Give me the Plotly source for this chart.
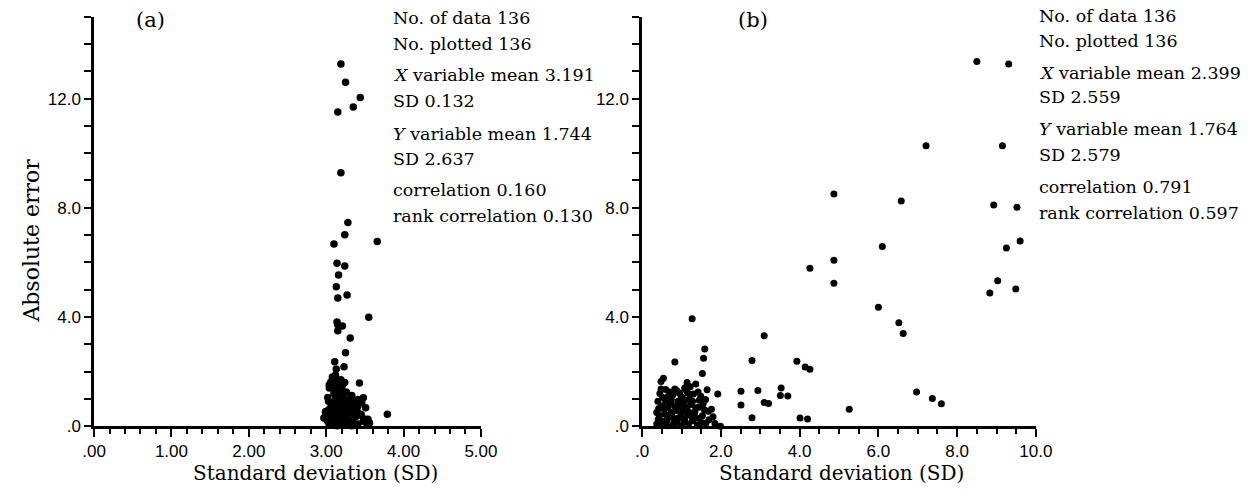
import plotly.graph_objects as go

W, H = 1260, 497

# ---------------- data: panel (a) ----------------
a_x = [3.19, 3.25, 3.44, 3.35, 3.15, 3.19, 3.28, 3.24, 3.10, 3.66,
       3.14, 3.24, 3.16, 3.13, 3.15, 3.27, 3.55, 3.15, 3.21, 3.15,
       3.31, 3.25, 3.11, 3.23, 3.13, 3.14,
       3.10, 3.19, 3.24, 3.11, 3.04, 3.43, 3.05, 3.16, 3.22, 3.08, 3.13,
       3.04, 3.13, 3.18, 3.32, 3.33, 3.48, 3.10, 3.15, 3.22, 3.07, 3.20, 3.12, 3.26, 3.02,
       3.03, 3.16, 3.24, 3.38, 3.44, 3.41, 3.37, 3.46, 3.20, 3.41, 3.51, 3.11, 3.26, 3.20,
       3.09, 3.01, 2.99, 3.33, 3.14, 3.07, 3.18, 3.28, 3.05, 3.22, 3.12, 3.30, 3.36, 3.09, 3.17,
       3.45, 3.79, 2.97, 3.07, 3.18, 3.29, 3.51, 3.55, 3.05, 3.15,
       3.22, 3.32, 3.53, 3.45, 3.07, 3.18, 3.28, 3.35, 3.54, 3.56,
       3.04, 3.14, 3.30, 3.10, 3.13, 3.20, 3.24, 3.11, 3.16, 3.26,
       3.02, 3.09, 3.19, 3.12, 3.25, 3.38, 3.48, 3.00, 3.41, 3.23,
       3.14, 3.06, 3.17, 3.10, 3.27, 3.33, 3.21, 3.08, 3.15, 3.19,
       3.06, 3.12, 3.28, 3.34, 3.40, 3.13]
a_y = [13.27, 12.60, 12.04, 11.69, 11.51, 9.28, 7.46, 7.01, 6.67, 6.77,
       5.97, 5.87, 5.54, 5.11, 4.70, 4.81, 3.99, 3.72, 3.67, 3.50,
       3.23, 2.69, 2.36, 2.18, 2.10, 3.82,
       1.76, 1.70, 1.60, 1.70, 1.52, 1.58, 1.46, 1.62, 1.55, 1.80, 1.52,
       1.40, 1.33, 1.28, 1.10, 1.13, 1.04, 1.20, 1.10, 1.05, 1.42, 1.38, 1.15, 1.25, 1.05,
       0.92, 0.92, 0.84, 0.88, 0.92, 0.98, 0.86, 0.86, 0.80, 0.74, 0.68, 0.62, 0.56, 0.64,
       0.50, 0.56, 0.53, 0.50, 0.75, 0.85, 0.58, 0.70, 0.66, 0.96, 0.98, 0.90, 0.62, 0.72, 0.52,
       0.44, 0.44, 0.30, 0.32, 0.26, 0.20, 0.26, 0.14, 0.08, 0.04,
       0.08, 0.10, 0.05, 0.40, 0.20, 0.24, 0.14, 0.26, 0.26, 0.12,
       0.04, 0.02, 0.04, 0.40, 0.15, 0.35, 0.45, 0.28, 0.10, 0.30,
       0.18, 0.10, 0.42, 0.45, 0.06, 0.35, 0.18, 0.42, 0.08, 0.22,
       0.36, 0.25, 0.16, 0.05, 0.40, 0.02, 0.12, 0.38, 0.30, 0.06,
       1.62, 1.88, 0.96, 0.78, 0.55, 1.00]

# ---------------- data: panel (b) ----------------
b_x = [8.50, 9.31, 7.21, 9.15, 4.87, 6.58, 8.93, 9.52, 9.60, 9.25,
       6.10, 4.87, 4.87, 9.03, 9.49, 8.83, 6.00, 6.52, 6.63, 6.97,
       7.37, 7.60, 5.26, 4.26, 3.10, 2.79, 3.93, 4.14, 4.26, 2.51,
       2.94, 3.53, 3.51, 3.70, 2.51, 3.10, 3.21, 2.79, 4.01, 4.20,
       1.27, 1.59, 1.56, 0.83, 1.53, 0.54, 0.48, 1.14, 1.36, 0.48,
       0.83, 1.08, 1.16, 1.65, 1.92, 0.99, 1.49, 0.66, 0.40, 0.74,
       0.91, 1.28, 1.61, 0.50, 0.66, 0.83, 1.08, 1.36, 1.76, 0.37,
       0.58, 0.74, 0.99, 1.20, 1.32, 1.53, 0.41, 0.62, 0.83, 1.08,
       1.28, 1.70, 0.37, 0.54, 0.79, 0.99, 1.47, 1.99,
       0.45, 0.52, 0.60, 0.70, 0.78, 0.88, 0.95, 1.02, 1.12, 1.22,
       1.30, 1.42, 1.45, 1.55, 1.68, 1.80, 1.62, 1.40, 1.18, 0.88,
       0.68, 0.50, 0.44, 0.56, 0.72, 0.86, 0.94, 1.04, 1.14, 1.24,
       1.34, 1.44, 1.58, 0.64, 0.76, 0.92, 1.00, 1.10, 1.20, 1.38,
       1.50, 1.85, 0.42, 0.60, 0.80, 1.06, 1.26, 1.16]
b_y = [13.36, 13.27, 10.27, 10.27, 8.51, 8.25, 8.10, 8.02, 6.78, 6.53,
       6.58, 6.08, 5.24, 5.33, 5.03, 4.88, 4.36, 3.79, 3.40, 1.25,
       1.02, 0.82, 0.62, 5.79, 3.31, 2.41, 2.38, 2.17, 2.09, 1.28,
       1.31, 1.40, 1.13, 1.11, 0.78, 0.87, 0.83, 0.31, 0.30, 0.27,
       3.94, 2.83, 2.49, 2.35, 1.93, 1.76, 1.64, 1.60, 1.55, 1.36,
       1.36, 1.40, 1.22, 1.34, 1.18, 1.10, 1.10, 1.10, 0.92, 0.98,
       0.92, 0.92, 0.98, 0.74, 0.68, 0.74, 0.74, 0.68, 0.62, 0.50,
       0.44, 0.50, 0.44, 0.50, 0.38, 0.38, 0.26, 0.20, 0.24, 0.26,
       0.20, 0.24, 0.08, 0.05, 0.07, 0.02, 0.02, 0.00,
       1.20, 1.05, 0.90, 1.25, 1.15, 1.30, 1.22, 1.05, 1.32, 1.45,
       1.18, 1.25, 0.95, 0.82, 0.55, 0.35, 0.12, 0.05, 0.08, 0.15,
       0.32, 0.18, 0.40, 0.62, 0.85, 0.58, 0.68, 0.55, 0.62, 0.80,
       0.52, 0.70, 0.60, 0.02, 0.38, 0.30, 0.85, 0.95, 1.00, 0.30,
       0.15, 0.10, 0.65, 1.35, 0.10, 0.15, 0.35, 0.42]

# ---------------- ticks & texts ----------------
y_tickvals = [0, 4, 8, 12]
y_ticktext = [".0", "4.0", "8.0", "12.0"]
a_xtickvals = [0, 1, 2, 3, 4, 5]
a_xticktext = [".00", "1.00", "2.00", "3.00", "4.00", "5.00"]
b_xtickvals = [0, 2, 4, 6, 8, 10]
b_xticktext = [".0", "2.0", "4.0", "6.0", "8.0", "10.0"]

a_stats = ["No. of data 136", "No. plotted 136", "<i>X</i> variable mean 3.191", "SD 0.132",
           "<i>Y</i> variable mean 1.744", "SD 2.637", "correlation 0.160", "rank correlation 0.130"]
b_stats = ["No. of data 136", "No. plotted 136", "<i>X</i> variable mean 2.399", "SD 2.559",
           "<i>Y</i> variable mean 1.764", "SD 2.579", "correlation 0.791", "rank correlation 0.597"]

SERIF = "DejaVu Serif"
SANS = "Liberation Sans, Arial"


def px(x):
    return x / W


def py(y):
    return 1 - y / H


fig = go.Figure()
fig.add_trace(go.Scatter(x=a_x, y=a_y, mode="markers", xaxis="x", yaxis="y",
                         marker=dict(color="black", size=7.5, line=dict(width=0)),
                         cliponaxis=False, showlegend=False))
fig.add_trace(go.Scatter(x=b_x, y=b_y, mode="markers", xaxis="x2", yaxis="y2",
                         marker=dict(color="black", size=7, line=dict(width=0)),
                         cliponaxis=False, showlegend=False))

tickfont = dict(family=SANS, size=17, color="black")
ydom = [py(435), py(17)]


def xaxis(dom, rng, vals, text, minor_dt):
    return dict(domain=dom, range=rng, showline=True, linewidth=2.5, linecolor="black",
                ticks="outside", ticklen=8, tickwidth=2, tickcolor="black",
                tickmode="array", tickvals=vals, ticktext=text, tickfont=tickfont,
                minor=dict(ticks="outside", tick0=0, dtick=minor_dt, ticklen=5,
                           tickwidth=1.5, tickcolor="black", showgrid=False),
                showgrid=False, zeroline=False)


def yaxis(anchor):
    return dict(domain=ydom, range=[0, 15], anchor=anchor, showline=True, linewidth=2.5,
                linecolor="black", ticks="outside", ticklen=7, tickwidth=1.5,
                tickcolor="black", tickmode="array", tickvals=y_tickvals,
                ticktext=y_ticktext, tickfont=tickfont,
                minor=dict(ticks="outside", tick0=0, dtick=1, ticklen=7,
                           tickwidth=1.5, tickcolor="black", showgrid=False),
                showgrid=False, zeroline=False)


annotations = []
tfont = dict(family=SERIF, size=17.5, color="black")
a_lines_y = [18, 45, 77, 103, 137, 162, 194, 220]
b_lines_y = [16, 42, 74, 99, 132, 158, 191, 217]
for t, yy in zip(a_stats, a_lines_y):
    annotations.append(dict(x=px(388), y=py(yy), xref="paper", yref="paper", text=t,
                            showarrow=False, xanchor="left", yanchor="middle", font=tfont))
for t, yy in zip(b_stats, b_lines_y):
    annotations.append(dict(x=px(1049), y=py(yy), xref="paper", yref="paper", text=t,
                            showarrow=False, xanchor="left", yanchor="middle", font=tfont))

titlefont = dict(family=SERIF, size=20, color="black")
panelfont = dict(family=SERIF, size=21, color="black")
annotations += [
    dict(x=px(142), y=py(20), xref="paper", yref="paper", text="(a)", showarrow=False,
         xanchor="center", yanchor="middle", font=panelfont),
    dict(x=px(758), y=py(20), xref="paper", yref="paper", text="(b)", showarrow=False,
         xanchor="center", yanchor="middle", font=panelfont),
    dict(x=px(19), y=py(246), xref="paper", yref="paper", text="Absolute error",
         showarrow=False, textangle=-90, xanchor="center", yanchor="middle",
         font=dict(family=SERIF, size=22, color="black")),
    dict(x=px(311), y=py(483), xref="paper", yref="paper", text="Standard deviation (SD)",
         showarrow=False, xanchor="center", yanchor="middle", font=titlefont),
    dict(x=px(849), y=py(483), xref="paper", yref="paper", text="Standard deviation (SD)",
         showarrow=False, xanchor="center", yanchor="middle", font=titlefont),
]

fig.update_layout(
    width=W, height=H, margin=dict(l=0, r=0, t=0, b=0),
    paper_bgcolor="white", plot_bgcolor="white",
    xaxis=dict(**xaxis([px(84), px(480)], [0, 5], a_xtickvals, a_xticktext, 0.2), anchor="y"),
    yaxis=yaxis("x"),
    xaxis2=dict(**xaxis([px(645), px(1048)], [0, 10], b_xtickvals, b_xticktext, 0.5), anchor="y2"),
    yaxis2=yaxis("x2"),
    annotations=annotations,
    showlegend=False,
)

fig.write_html("out.html")
